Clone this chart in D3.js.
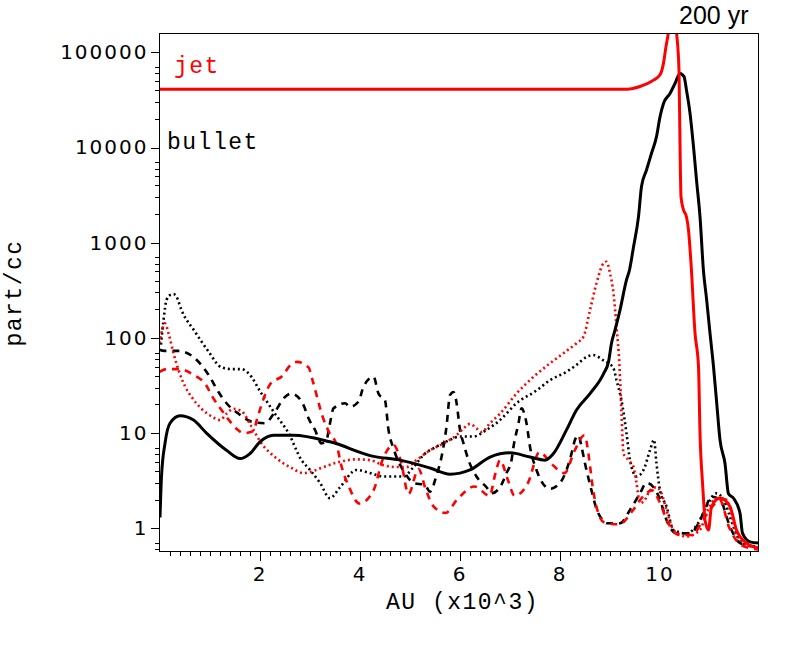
<!DOCTYPE html>
<html><head><meta charset="utf-8">
<script src="https://cdn.jsdelivr.net/npm/d3@7/dist/d3.min.js"></script>
<style>body{margin:0;background:#fff}</style>
</head><body>
<svg id="c" width="800" height="649"></svg>
<script>
// ---- data (x in 10^3 AU, y in part/cc) ----
const xTickValues = [2, 4, 6, 8, 10];
const yTickValues = [1, 10, 100, 1000, 10000, 100000];
const yTickLabels = ["1", "10", "100", "1000", "10000", "100000"];
const yMinorMultipliers = [2, 3, 4, 5, 6, 7];

const jetSolid = [[0,41000],[9.35,41000],[9.61,43700],[9.88,51000],[10.01,58000],[10.08,77000],[10.13,115000],[10.18,165000],[10.26,500000],[10.34,165000],[10.39,65000],[10.41,11100],[10.43,3040],[10.48,2215],[10.54,1860],[10.58,1360],[10.63,612],[10.71,113],[10.78,50],[10.81,10],[10.86,3.0],[10.89,1.69],[10.91,1.22],[10.98,0.96],[11.04,1.69],[11.21,2.08],[11.41,1.69],[11.54,0.96],[11.74,0.70],[11.98,0.62]];

const bulletSolid = [[0.01,1.3],[0.04,3.5],[0.11,7.8],[0.21,12.7],[0.41,15.2],[0.68,13.7],[0.94,10],[1.34,6.6],[1.61,5.4],[1.81,6.1],[2.01,8.1],[2.28,9.5],[2.68,9.5],[3.41,8.1],[4.28,5.7],[4.81,5.2],[5.41,4.3],[5.81,3.7],[6.01,3.8],[6.21,4.1],[6.61,5.6],[7.01,6.2],[7.41,5.6],[7.71,5.2],[7.88,6.1],[8.14,10.8],[8.34,17.5],[8.61,26],[8.88,42],[8.98,56],[9.04,88],[9.11,121],[9.21,196],[9.34,406],[9.40,517],[9.48,900],[9.58,1880],[9.64,3900],[9.74,5800],[9.84,8700],[9.94,13000],[10.01,21000],[10.08,29000],[10.21,37000],[10.31,47000],[10.41,60000],[10.49,55500],[10.54,40000],[10.61,23000],[10.68,10200],[10.74,4560],[10.81,1880],[10.88,500],[10.94,260],[11.01,112],[11.08,50],[11.14,22],[11.21,8.5],[11.31,4.8],[11.38,2.3],[11.48,2.07],[11.61,1.44],[11.66,0.89],[11.81,0.72],[11.98,0.7]];

const bulletDotted = [[0.03,85],[0.08,154],[0.14,250],[0.21,282],[0.28,289],[0.34,271],[0.44,196],[0.71,116],[0.98,72],[1.24,49],[1.44,47],[1.64,47],[1.78,42.5],[2.04,26],[2.31,16],[2.58,10],[2.84,5.2],[3.01,4.1],[3.21,3.0],[3.41,2.07],[3.61,2.7],[3.94,4.1],[4.21,3.8],[4.48,3.5],[4.88,3.5],[5.08,4.4],[5.28,5.9],[5.54,7.2],[5.81,8.5],[6.01,9.2],[6.28,9.2],[6.54,10.8],[6.81,13.7],[7.14,20.6],[7.54,28],[7.81,36],[8.14,44],[8.34,52],[8.54,63],[8.68,66],[8.88,58],[8.98,54],[9.08,48],[9.14,36],[9.24,22],[9.34,10],[9.41,5.2],[9.54,3.5],[9.68,4.1],[9.81,6.6],[9.89,8.5],[9.94,4.8],[10.01,2.5],[10.14,1.7],[10.28,0.96],[10.54,0.885],[10.81,1.22],[10.94,1.7],[11.14,2.33],[11.28,2.0],[11.48,1.04],[11.64,0.7],[11.98,0.64]];

const bulletDashed = [[0.0,75],[0.1,73],[0.38,73],[0.71,61],[0.98,41],[1.18,27],[1.34,20.6],[1.58,16],[1.84,13.2],[2.11,12.7],[2.31,16.8],[2.51,24],[2.64,26],[2.88,19.7],[2.98,14.3],[3.11,10.8],[3.24,7.8],[3.34,8.5],[3.41,12.7],[3.48,18.2],[3.71,20.6],[3.81,18.9],[3.98,21.4],[4.08,30.7],[4.28,39],[4.38,26],[4.51,22],[4.58,10.8],[4.68,6.9],[4.91,3.8],[5.08,3.0],[5.31,2.85],[5.41,2.42],[5.54,3.6],[5.64,5.6],[5.74,11.7],[5.81,25],[5.88,27],[5.94,21],[6.01,10.8],[6.08,7.8],[6.18,5.2],[6.34,3.5],[6.54,2.7],[6.64,2.33],[6.81,2.7],[6.94,3.8],[7.04,5.2],[7.08,7.2],[7.18,12.7],[7.24,18.2],[7.34,12.7],[7.41,7.2],[7.54,4.1],[7.81,2.6],[8.01,3.0],[8.14,4.1],[8.24,6.1],[8.31,8.5],[8.38,9.5],[8.44,7.2],[8.51,4.8],[8.64,2.5],[8.74,1.6],[8.88,1.2],[8.94,1.13],[9.21,1.13],[9.41,1.56],[9.61,2.33],[9.74,3.0],[9.88,2.7],[10.01,2.0],[10.14,1.22],[10.34,0.885],[10.61,0.885],[10.88,1.44],[11.04,2.15],[11.21,2.0],[11.41,1.04],[11.61,0.7],[11.98,0.64]];

const jetDotted = [[0.0,88],[0.11,142],[0.18,112],[0.28,69],[0.38,46],[0.51,31],[0.64,24],[0.84,18],[1.04,15],[1.21,13.7],[1.34,16],[1.48,18],[1.64,17],[1.84,11.7],[2.04,7.8],[2.31,5.6],[2.64,4.3],[2.88,3.8],[3.01,3.9],[3.28,4.4],[3.61,5.0],[3.94,5.3],[4.21,5.2],[4.48,4.6],[4.74,4.4],[4.94,4.4],[5.14,5.2],[5.41,6.6],[5.68,7.8],[5.94,9.5],[6.08,11.2],[6.21,12.5],[6.34,11.2],[6.44,10.3],[6.61,12.7],[6.81,16],[7.14,26],[7.48,39],[7.81,54],[8.08,69],[8.34,88],[8.48,103],[8.61,196],[8.74,375],[8.88,608],[8.94,631],[9.01,477],[9.08,294],[9.14,131],[9.20,50],[9.24,16],[9.28,6.1],[9.38,5.2],[9.48,4.4],[9.54,3.0],[9.61,1.83],[9.71,2.0],[9.81,2.5],[9.94,2.7],[10.04,2.33],[10.14,1.56],[10.28,0.96],[10.54,0.82],[10.81,0.96],[10.94,1.44],[11.14,2.07],[11.34,2.0],[11.51,0.96],[11.74,0.67],[11.98,0.62]];

const jetDashed = [[0.0,44],[0.14,47],[0.38,47],[0.68,41],[0.93,32],[1.06,24],[1.24,17.5],[1.39,13.7],[1.55,11],[1.68,10],[1.88,10.5],[1.95,14],[2.22,33],[2.46,40],[2.62,52],[2.75,56],[2.98,49],[3.08,33],[3.26,15],[3.40,10],[3.54,7.6],[3.64,4.5],[3.78,2.8],[4.0,1.82],[4.28,2.5],[4.47,5.4],[4.68,7.5],[4.83,5.0],[4.98,2.3],[5.18,4.2],[5.32,2.6],[5.48,1.7],[5.72,1.45],[5.95,2.0],[6.3,2.75],[6.6,2.2],[6.72,3.8],[6.81,5.2],[6.97,3.2],[7.1,2.2],[7.37,3.0],[7.6,6.3],[7.85,4.7],[8.1,3.8],[8.3,6.5],[8.5,9.5],[8.6,5],[8.66,2.8],[8.75,1.6],[8.9,1.15],[9.2,1.1],[9.45,1.5],[9.65,2.1],[9.85,2.5],[10.0,1.9],[10.15,1.2],[10.4,0.85],[10.65,0.85],[10.9,1.3],[11.1,1.8],[11.2,2.0],[11.4,1.0],[11.65,0.66],[11.98,0.6]];

const seriesList = [
  {name:"bullet dashed", data:bulletDashed, color:"#000000", dash:"7,6", width:2.6},
  {name:"bullet dotted", data:bulletDotted, color:"#000000", dash:"2,3", width:2.6},
  {name:"jet dashed",    data:jetDashed,    color:"#ff0000", dash:"7,6", width:2.6},
  {name:"jet dotted",    data:jetDotted,    color:"#ff0000", dash:"2,3", width:2.6},
  {name:"bullet",        data:bulletSolid,  color:"#000000", dash:null,  width:3},
  {name:"jet",           data:jetSolid,     color:"#ff0000", dash:null,  width:3}
];

// ---- layout ----
const L = 159.5, R = 758.5, T = 33.5, B = 551.5;
const svg = d3.select("#c");
const x = d3.scaleLinear().domain([0, 11.98]).range([L, R]);
const y = d3.scaleLog().domain([0.5706, 159500]).range([B, 33]);

svg.append("defs").append("clipPath").attr("id","clip")
  .append("rect").attr("x",L).attr("y",T-0.5).attr("width",R-L).attr("height",B-T+0.5);

const line = d3.line().x(d=>x(d[0])).y(d=>y(d[1])).curve(d3.curveMonotoneX);
const g = svg.append("g").attr("clip-path","url(#clip)");
seriesList.forEach(s=>{
  g.append("path").datum(s.data).attr("d",line)
    .attr("fill","none").attr("stroke",s.color).attr("stroke-width",s.width)
    .attr("stroke-dasharray",s.dash).attr("stroke-linejoin","round");
});

// frame
svg.append("rect").attr("x",L).attr("y",T).attr("width",R-L).attr("height",B-T)
  .attr("fill","none").attr("stroke","#000").attr("stroke-width",1).attr("shape-rendering","crispEdges");

// x axis
const xMinor = d3.range(1, 60).map(i=>i*0.2).filter(v=>Math.abs(v/2-Math.round(v/2))>1e-6);
const xMin = svg.append("g").attr("transform",`translate(0,${B})`)
  .call(d3.axisBottom(x).tickValues(xMinor).tickSize(4.5).tickFormat(""));
const xMaj = svg.append("g").attr("transform",`translate(0,${B})`)
  .call(d3.axisBottom(x).tickValues(xTickValues).tickSize(9).tickPadding(6).tickFormat(d3.format("d")));

// y axis
const yMinor = [];
[0.1,1,10,100,1000,10000,100000].forEach(dec=>yMinorMultipliers.forEach(m=>{const v=dec*m; if(v>=0.5706&&v<=159500) yMinor.push(v);}));
const yMin = svg.append("g").attr("transform",`translate(${L},0)`)
  .call(d3.axisLeft(y).tickValues(yMinor).tickSize(4.5).tickFormat(""));
const yMaj = svg.append("g").attr("transform",`translate(${L},0)`)
  .call(d3.axisLeft(y).tickValues(yTickValues).tickSize(9).tickPadding(2).tickFormat((d,i)=>yTickLabels[i]));

[xMin,xMaj,yMin,yMaj].forEach(a=>{
  a.select(".domain").remove();
  a.selectAll("line").attr("stroke","#000").attr("stroke-width",1).attr("shape-rendering","crispEdges");
  a.selectAll("text").attr("font-family","DejaVu Sans").attr("font-size",20)
    .attr("letter-spacing","2px").attr("fill","#000");
});

// labels
const mono = "'Liberation Mono', 'Courier New', monospace";
svg.append("text").attr("x",174).attr("y",73).text("jet")
  .attr("font-family",mono).attr("font-size",23).attr("letter-spacing","1.5px").attr("fill","#ff0000");
svg.append("text").attr("x",167).attr("y",149).text("bullet")
  .attr("font-family",mono).attr("font-size",23).attr("letter-spacing","1.5px").attr("fill","#000");
svg.append("text").attr("x",386).attr("y",609).text("AU (x10^3)")
  .attr("font-family",mono).attr("font-size",23).attr("letter-spacing","1.5px").attr("fill","#000");
svg.append("text").attr("transform","translate(21,293) rotate(-90)").attr("text-anchor","middle").text("part/cc")
  .attr("font-family",mono).attr("font-size",23).attr("letter-spacing","1.5px").attr("fill","#000");
svg.append("text").attr("x",679).attr("y",24).text("200 yr")
  .attr("font-family","'Liberation Sans', Arial, sans-serif").attr("font-size",25).attr("fill","#000");
</script>
</body></html>
